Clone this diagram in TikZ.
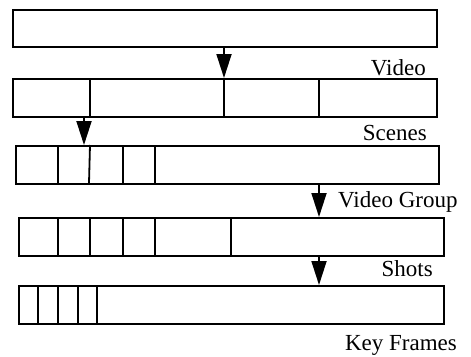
\documentclass[tikz,border=0pt]{standalone}
\usepackage{fontspec}
\setmainfont{Liberation Serif}
\usetikzlibrary{arrows.meta}
\tikzset{
  bar/.style={draw, line width=1.8pt, inner sep=0pt, anchor=north west},
  cut/.style={line width=1.8pt},
  down/.style={line width=1.8pt, -{Triangle[length=24pt,width=15pt]}},
  lbl/.style={inner sep=0pt, font=\fontsize{23}{26}\selectfont}
}
\begin{document}
\begin{tikzpicture}[x=1pt,y=-1pt]
\useasboundingbox (0,0) rectangle (471,356);
% the five bars
\node[bar, minimum width=424pt, minimum height=37pt] (video) at (12,9){};
\node[bar, minimum width=424pt, minimum height=38pt] (scenes) at (12,78){};
\node[bar, minimum width=423pt, minimum height=38pt] (group) at (15,145){};
\node[bar, minimum width=425pt, minimum height=38pt] (shots) at (18,217){};
\node[bar, minimum width=425pt, minimum height=38pt] (frames) at (18,285){};
% dividers
\foreach \x in {90,224,319}
  \draw[cut] (\x,78) -- (\x,116);
\foreach \x/\y in {58/58,90/89,123/123,155/155}
  \draw[cut] (\x,145) -- (\y,183);
\foreach \x in {58,90,123,155,231}
  \draw[cut] (\x,217) -- (\x,255);
\foreach \x in {38,58,78,97}
  \draw[cut] (\x,285) -- (\x,323);
% arrows
\coordinate (a1) at (224,46);
\coordinate (a2) at (84,116);
\coordinate (a3) at (319,183);
\coordinate (a4) at (319,255);
\draw[down] (a1) -- (a1 |- scenes.north);
\draw[down] (a2) -- (a2 |- group.north);
\draw[down] (a3) -- (a3 |- shots.north);
\draw[down] (a4) -- (a4 |- frames.north);
% labels
\node[lbl, anchor=base east] (lvideo) at (426,75) {Video};
\node[lbl, anchor=base east] (lscenes) at (427,140) {Scenes};
\node[lbl, anchor=base west] (lgroup) at (338,207) {Video Group};
\node[lbl, anchor=base east] (lshots) at (433,276) {Shots};
\node[lbl, anchor=base east] (lframes) at (457,350) {Key Frames};
\end{tikzpicture}
\end{document}
